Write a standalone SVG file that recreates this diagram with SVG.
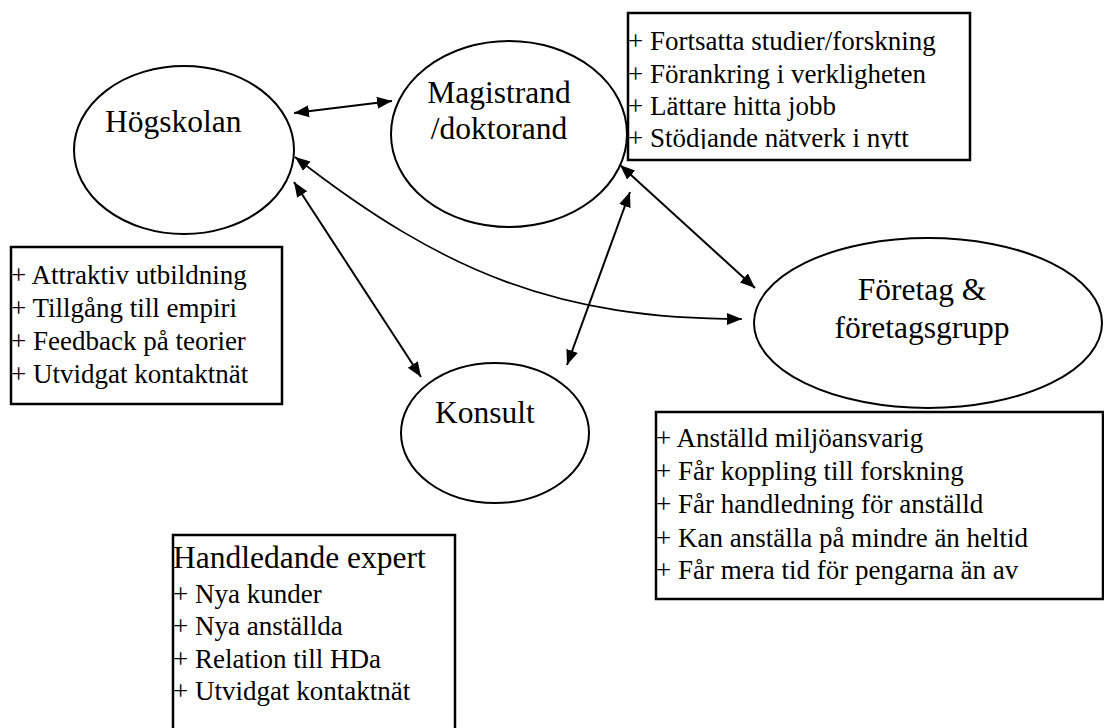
<svg xmlns="http://www.w3.org/2000/svg" width="1104" height="728" viewBox="0 0 1104 728">
<style>
.node{fill:#fff;stroke:#000;stroke-width:2}
.box{fill:#fff;stroke:#000;stroke-width:2.5}
text{font-family:'Liberation Serif',serif;fill:#000}
.big{font-size:31.5px}
.lst{font-size:27px}
.c{fill:none;stroke:#000;stroke-width:2}
</style>
<defs>
<marker id="ah" markerUnits="userSpaceOnUse" markerWidth="16" markerHeight="14" refX="15" refY="6" orient="auto-start-reverse" viewBox="0 0 16 12">
<path d="M0,0 L15,6 L0,12 Z" fill="#000"/>
</marker>
<clipPath id="clipTR"><rect x="628" y="13" width="342" height="136"/></clipPath>
</defs>
<rect width="1104" height="728" fill="#fff"/>

<g id="hogskolan">
<ellipse class="node" cx="184" cy="150" rx="110" ry="84"/>
<text class="big" x="105" y="132">Högskolan</text>
</g>

<g id="magistrand">
<ellipse class="node" cx="509" cy="134" rx="118" ry="93"/>
<text class="big" x="499" y="103" text-anchor="middle">Magistrand</text>
<text class="big" x="499" y="139" text-anchor="middle">/doktorand</text>
</g>

<g id="foretag">
<ellipse class="node" cx="928" cy="323" rx="174" ry="85"/>
<text class="big" x="922" y="300" text-anchor="middle">Företag &amp;</text>
<text class="big" x="922" y="338" text-anchor="middle">företagsgrupp</text>
</g>

<g id="konsult">
<ellipse class="node" cx="495" cy="433" rx="94" ry="70"/>
<text class="big" x="485" y="423" text-anchor="middle">Konsult</text>
</g>

<g id="box-magistrand">
<rect class="box" x="628" y="13" width="342" height="147"/>
<g clip-path="url(#clipTR)">
<text class="lst" x="628" y="50">+ Fortsatta studier/forskning</text>
<text class="lst" x="628" y="83">+ Förankring i verkligheten</text>
<text class="lst" x="628" y="115">+ Lättare hitta jobb</text>
<text class="lst" x="628" y="147">+ Stödjande nätverk i nytt</text>
</g>
</g>

<g id="box-hogskolan">
<rect class="box" x="11" y="247" width="271" height="157"/>
<text class="lst" x="11" y="284">+ Attraktiv utbildning</text>
<text class="lst" x="11" y="317">+ Tillgång till empiri</text>
<text class="lst" x="11" y="350">+ Feedback på teorier</text>
<text class="lst" x="11" y="383">+ Utvidgat kontaktnät</text>
</g>

<g id="box-foretag">
<rect class="box" x="656" y="412" width="447" height="187"/>
<text class="lst" x="656" y="447">+ Anställd miljöansvarig</text>
<text class="lst" x="656" y="480">+ Får koppling till forskning</text>
<text class="lst" x="656" y="513">+ Får handledning för anställd</text>
<text class="lst" x="656" y="547">+ Kan anställa på mindre än heltid</text>
<text class="lst" x="656" y="579">+ Får mera tid för pengarna än av</text>
</g>

<g id="box-expert">
<rect class="box" x="173" y="535" width="282" height="200"/>
<text class="big" x="173" y="568">Handledande expert</text>
<text class="lst" x="173" y="603">+ Nya kunder</text>
<text class="lst" x="173" y="635">+ Nya anställda</text>
<text class="lst" x="173" y="668">+ Relation till HDa</text>
<text class="lst" x="173" y="700">+ Utvidgat kontaktnät</text>
</g>

<g id="connectors">
<line class="c" x1="294" y1="113" x2="392" y2="101" marker-start="url(#ah)" marker-end="url(#ah)"/>
<line class="c" x1="294" y1="182" x2="421" y2="377" marker-start="url(#ah)" marker-end="url(#ah)"/>
<path class="c" style="stroke-width:1.6" d="M295,157 C445,274 560,319 742,319" marker-start="url(#ah)" marker-end="url(#ah)"/>
<line class="c" x1="620" y1="165" x2="755" y2="288" marker-start="url(#ah)" marker-end="url(#ah)"/>
<line class="c" x1="630" y1="192" x2="567" y2="365" marker-start="url(#ah)" marker-end="url(#ah)"/>
</g>
</svg>
